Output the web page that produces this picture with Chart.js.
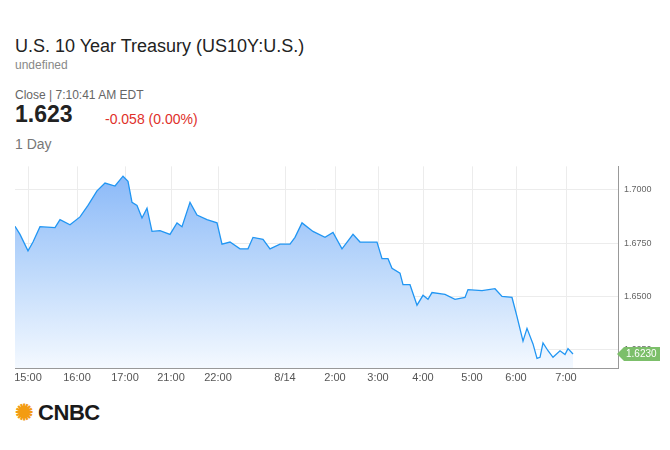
<!DOCTYPE html><html><head><meta charset="utf-8">
<script src="https://cdn.jsdelivr.net/npm/chart.js@4"></script>
<style>body{margin:0;width:670px;height:450px;background:#fff;font-family:Arial,"Liberation Sans",sans-serif;position:relative;overflow:hidden}
.t{position:absolute;left:15px;white-space:nowrap}</style></head><body>
<div class="t" style="top:36px;font-size:18px;color:#222">U.S. 10 Year Treasury (US10Y:U.S.)</div>
<div class="t" style="top:58px;font-size:12px;color:#888">undefined</div>
<div class="t" style="top:88px;font-size:12px;color:#666">Close | 7:10:41 AM EDT</div>
<div class="t" style="top:101px;font-size:23px;font-weight:bold;color:#222">1.623</div>
<div class="t" style="left:105px;top:111px;font-size:14px;color:#e0302a">-0.058 (0.00%)</div>
<div class="t" style="top:136px;font-size:14px;color:#777">1 Day</div>
<div class="t" style="top:400px;font-size:22px;font-weight:900;color:#1a1a1a;letter-spacing:-0.5px"><span style="color:#f39c12">✺</span> CNBC</div>
<canvas id="c" width="670" height="235" style="position:absolute;left:0;top:155px;width:670px;height:235px"></canvas>
<script>
const xs=[15,20,28,33,40,55,60,70,80,88,97,105,115,123,128,132,137,142,147,152,160,170,177,182,190,197,207,217,222,230,240,248,253,263,270,280,290,295,302,313,325,333,342,353,360,377,382,388,392,400,403,410,417,423,428,432,445,455,465,468,482,495,502,512,517,523,527,533,537,540,543,548,553,560,565,568,573];
const ys=[1.6829,1.6791,1.6714,1.6755,1.6827,1.6823,1.686,1.6836,1.6873,1.6927,1.6995,1.7032,1.7018,1.7064,1.704,1.6941,1.6927,1.6868,1.6914,1.6805,1.6809,1.6791,1.6845,1.6827,1.6941,1.6882,1.686,1.6845,1.6745,1.6755,1.6723,1.6723,1.6777,1.6768,1.6723,1.6745,1.6745,1.6777,1.6845,1.6805,1.6777,1.68,1.6723,1.6791,1.6755,1.6755,1.6677,1.6677,1.6632,1.6609,1.6555,1.6555,1.6459,1.6505,1.6486,1.6518,1.6509,1.6486,1.6495,1.6532,1.6527,1.6536,1.65,1.6495,1.6405,1.629,1.635,1.6277,1.6209,1.6214,1.6282,1.6245,1.6214,1.6245,1.6227,1.6255,1.623];
const tickPos=[28,77,125,171,218,285,335,378,423,472,516,566];
const tickLabels=["15:00","16:00","17:00","21:00","22:00","8/14","2:00","3:00","4:00","5:00","6:00","7:00"];
const yTicks=[1.625,1.65,1.675,1.70];
const lastValue="1.6230";
const cv=document.getElementById('c');
const badge={id:'badge',afterDraw(ch){const c=ch.ctx,y=ch.scales.y.getPixelForValue(1.623),x=ch.chartArea.right+4;
c.fillStyle='#7cbf6a';c.beginPath();c.moveTo(x-5,y);c.lineTo(x+2,y-7);c.lineTo(x+38,y-7);c.lineTo(x+38,y+7);c.lineTo(x+2,y+7);c.closePath();c.fill();
c.fillStyle='#fff';c.font='10px Arial';c.textBaseline='middle';c.fillText(lastValue,x+4,y+0.5);}};
new Chart(cv,{type:'line',data:{datasets:[{data:xs.map((x,i)=>({x,y:ys[i]})),borderColor:'#2196f3',borderWidth:1.3,pointRadius:0,tension:0,fill:'start',
backgroundColor:(ctx)=>{const a=ctx.chart.chartArea;if(!a)return'#cfe3fb';const g=ctx.chart.ctx.createLinearGradient(0,a.top,0,a.bottom);g.addColorStop(0,'#86b6f8');g.addColorStop(0.5,'#bcd8fb');g.addColorStop(1,'#f4f9ff');return g;}}]},
options:{responsive:false,animation:false,devicePixelRatio:1,layout:{padding:{left:15,top:0,right:0,bottom:0}},
plugins:{legend:{display:false},tooltip:{enabled:false}},
scales:{x:{type:'linear',min:15,max:618,afterBuildTicks(s){s.ticks=tickPos.map(v=>({value:v}))},
ticks:{autoSkip:false,maxRotation:0,color:'#555',font:{size:11},padding:3,callback:(v)=>tickLabels[tickPos.indexOf(v)]},
grid:{color:'#ececec',drawTicks:false},border:{color:'#999'},afterFit(s){s.height=22}},
y:{position:'right',min:1.6164,max:1.711,afterBuildTicks(s){s.ticks=yTicks.map(v=>({value:v}))},
ticks:{color:'#666',font:{size:9},padding:6,callback:v=>v.toFixed(4)},grid:{color:'#ececec',drawTicks:false},border:{color:'#999'},afterFit(s){s.width=52}}}},plugins:[badge]});
</script></body></html>
